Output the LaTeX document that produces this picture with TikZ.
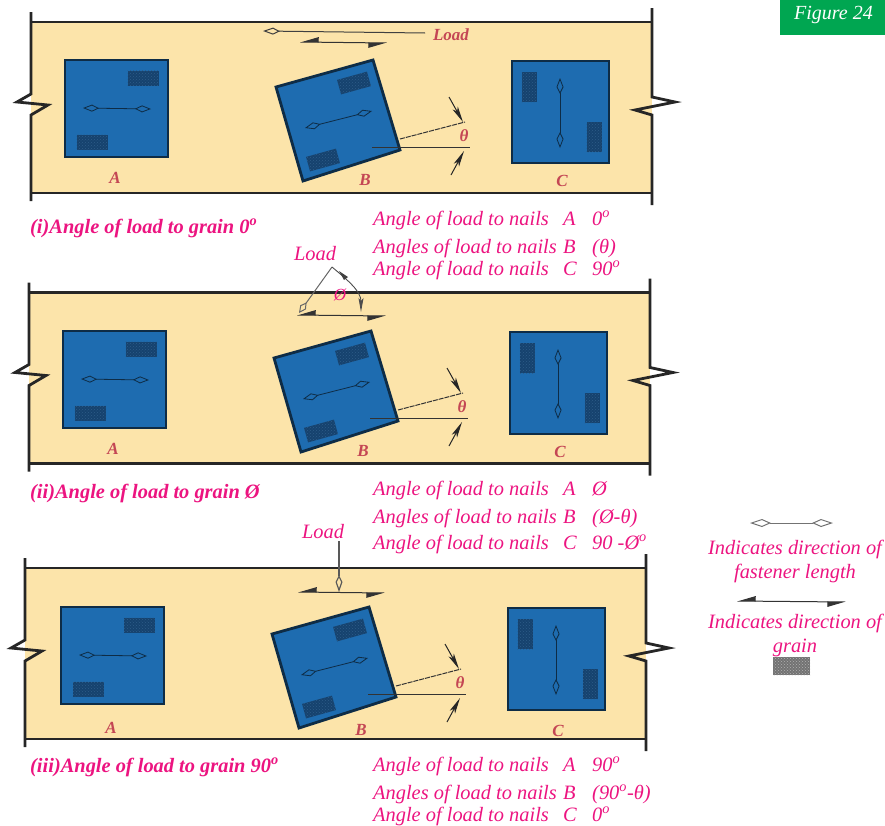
\documentclass[tikz,border=0pt]{standalone}
\usepackage{fontspec}
\setmainfont{Liberation Serif}
\usetikzlibrary{arrows.meta, patterns}

\definecolor{woodfill}{RGB}{252,228,170}
\definecolor{nailblue}{RGB}{30,108,176}
\definecolor{nailedge}{RGB}{14,44,70}
\definecolor{patchdark}{RGB}{22,66,110}
\definecolor{patchdot}{RGB}{44,92,136}
\definecolor{notepink}{RGB}{236,20,128}
\definecolor{markred}{RGB}{196,70,84}
\definecolor{figgreen}{RGB}{0,166,81}

\newcommand{\dg}{\textsuperscript{o}}

\tikzset{
    woodline/.style={line width=2.4pt, draw=black!85},
    blockbox/.style={line width=2.8pt, draw=nailedge, fill=nailblue, line join=miter},
    nailpatch/.style={minimum width=#1, minimum height=15pt, inner sep=0pt,
        preaction={fill=patchdark}, pattern=crosshatch dots, pattern color=patchdot},
    nailpatchup/.style={minimum width=15pt, minimum height=#1, inner sep=0pt,
        preaction={fill=patchdark}, pattern=crosshatch dots, pattern color=patchdot},
    fastener/.style={{Kite[open, length=16pt, width=7pt, inset=7pt]}-{Kite[open, length=16pt, width=7pt, inset=7pt]},
        line width=0.8pt, draw=nailedge},
    grainline/.style={{Stealth[harpoon, swap, length=17pt, width=10pt, inset=0pt]}-{Stealth[harpoon, swap, length=17pt, width=10pt, inset=0pt]},
        line width=1pt, draw=black!80},
    dimtip/.style={-{Stealth[length=16pt, width=6pt, inset=4pt]}, line width=1pt, draw=black!85},
    note/.style={anchor=base west, inner sep=0pt, text=notepink,
        font=\fontsize{20.4}{20.4}\selectfont\itshape},
    legendnote/.style={anchor=base, inner sep=0pt, text=notepink,
        font=\fontsize{20.4}{20.4}\selectfont\itshape},
    headnote/.style={anchor=base west, inner sep=0pt, text=notepink,
        font=\fontsize{20.4}{20.4}\selectfont\itshape\bfseries},
    blockmark/.style={inner sep=0pt, text=markred,
        font=\fontsize{17}{17}\selectfont\itshape\bfseries},
}

\begin{document}
\begin{tikzpicture}[x=1pt, y=-1pt]
    \useasboundingbox (0,0) rectangle (885,825);

    % 1. Figure tag
    \fill[figgreen] (780,0) rectangle (885,35);
    \node[text=white, inner sep=0pt, font=\fontsize{20}{20}\selectfont\itshape] (figtag) at (833.5,15) {Figure 24};

    % 2. Three timber panels (frame shift / block shift / letter drop)
    \foreach \fx/\fy/\bx/\by/\ly [count=\n] in {0/0/0/0/0, -2/270.5/-2/271/0, -6/546/-4/547/3} {
        \begin{scope}[shift={(\fx,\fy)}]
            \fill[woodfill] (31,22) rectangle (652,193);
            \draw[woodline] (31,22) -- (652,22);
            \draw[woodline] (31,193) -- (652,193);
            \draw[woodline, line width=2.8pt] (31,12) -- (31,94) -- (17,102) -- (48,105) -- (31,115) -- (31,201);
            \draw[woodline, line width=2.8pt] (652,8) -- (652,97) -- (675,102) -- (635,110) -- (652,115) -- (652,205);
        \end{scope}
        \begin{scope}[shift={(\bx,\by)}]
            % block A
            \draw[blockbox] (65,60) rectangle (168,157);
            \node[nailpatch=31pt] (patchA\n) at (143,78) {};
            \node[nailpatch=31pt] (patchAb\n) at (92,142) {};
            \draw[fastener] (83,108) -- (151,109);
            \node[blockmark] (labelA\n) at (115,{178+\ly}) {A};
            % block B
            \draw[blockbox] (276,87) -- (373,60) -- (400,150) -- (303,181) -- cycle;
            \node[nailpatch=31pt, rotate=15.5] (patchB\n) at (354,83) {};
            \node[nailpatch=31pt, rotate=15.5] (patchBb\n) at (323,160) {};
            \draw[fastener] (305,128) -- (372,111);
            \node[blockmark] (labelB\n) at (365,{180+\ly}) {B};
            % angle between grain and nail
            \coordinate (apex\n) at (400,139);
            \coordinate (upper\n) at (465,122);
            \coordinate (level\n) at (372,147);
            \coordinate (levelend\n) at (470,147);
            \draw[line width=1pt, black!80, dash pattern=on 5pt off 1pt] (apex\n) -- (upper\n);
            \draw[line width=1pt, black!80] (level\n) -- (levelend\n);
            \draw[dimtip] (449,97) -- (463,122);
            \draw[dimtip] (451,175) -- (464,151);
            \node[blockmark] (theta\n) at (464,136) {θ};
            % block C
            \draw[blockbox] (512,61) rectangle (609,163);
            \node[nailpatchup=30pt] (patchC\n) at (529,87) {};
            \node[nailpatchup=30pt] (patchCb\n) at (594,137) {};
            \draw[fastener] (560,78) -- (560,148);
            \node[blockmark] (labelC\n) at (562,{181+\ly}) {C};
        \end{scope}
    }

    % 3. Load arrows
    \coordinate (loadtail) at (425,33);
    \coordinate (loadtip) at (263,31);
    \draw[-{Kite[open, length=17pt, width=7pt, inset=7pt]}, line width=1pt, black!75] (loadtail) -- (loadtip);
    \draw[grainline] (300,42) -- (387,43);
    \node[blockmark] (loadA) at (451,35) {Load};

    \node[note, anchor=center] (loadB) at (315,254) {Load};
    \coordinate (slantapex) at (332,267);
    \coordinate (slantfoot) at (299,313);
    \coordinate (arcend) at (361,312);
    \draw[-{Kite[open, length=13pt, width=7pt, inset=6pt]}, line width=1pt, black!60] (slantapex) -- (slantfoot);
    \draw[-{Stealth[length=14pt, width=5pt, inset=3pt]}, line width=0.9pt, black!70] (slantapex) to[out=-40, in=90] (arcend);
    \fill[black!75] (339,271) -- (348,277) -- (344,280) -- cycle;
    \draw[grainline] (297,315) -- (386,316);
    \node[note, anchor=center, font=\fontsize{17}{17}\selectfont\itshape] (phi) at (340,295) {Ø};

    \node[note, anchor=center] (loadC) at (323,532) {Load};
    \coordinate (droptail) at (339,541);
    \coordinate (droptip) at (339,592);
    \draw[-{Kite[open, length=17pt, width=7pt, inset=7pt]}, line width=1.2pt, black!65] (droptail) -- (droptip);
    \draw[grainline] (298,592) -- (385,593);

    % 4. Captions
    \node[headnote] (headA) at (30,233) {(i)Angle of load to grain 0\dg};
    \node[headnote] (headB) at (30,498) {(ii)Angle of load to grain Ø};
    \node[headnote] (headC) at (30,772) {(iii)Angle of load to grain 90\dg};

    \foreach \yy/\lead/\nail/\val [count=\r] in {
        225/Angle/A/{0\dg}, 253/Angles/B/{(θ)}, 275/Angle/C/{90\dg},
        495/Angle/A/{Ø}, 523/Angles/B/{(Ø-θ)}, 549/Angle/C/{90 -Ø\dg},
        771/Angle/A/{90\dg}, 799/Angles/B/{(90\dg-θ)}, 821/Angle/C/{0\dg}} {
        \node[note] (row\r) at (373,\yy) {\lead\ of load to nails};
        \node[note] (nail\r) at (563,\yy) {\nail};
        \node[note] (value\r) at (592,\yy) {\val};
    }

    % 5. Legend
    \draw[fastener, draw=black!55, line width=1pt, {Kite[open, length=21pt, width=8pt, inset=9pt]}-{Kite[open, length=21pt, width=8pt, inset=9pt]}] (750,523) -- (833,523);
    \node[legendnote] (legA) at (795,554) {Indicates direction of};
    \node[legendnote] (legB) at (795,578) {fastener length};
    \draw[grainline] (737,601) -- (846,602);
    \node[legendnote] (legC) at (795,628) {Indicates direction of};
    \node[legendnote] (legD) at (795,652) {grain};
    \node[minimum width=37pt, minimum height=18pt, inner sep=0pt,
        preaction={fill=black!55}, pattern=crosshatch dots, pattern color=black!30] (legpatch) at (791.5,666) {};
\end{tikzpicture}
\end{document}
